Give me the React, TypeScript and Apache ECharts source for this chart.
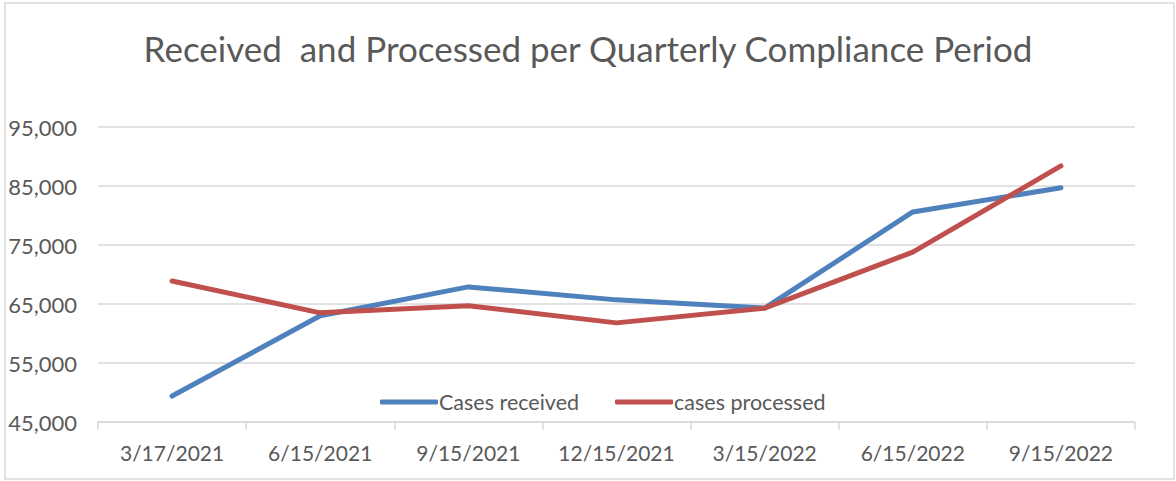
import React, { useEffect, useRef } from "react";
import * as echarts from "echarts";

const categories = ["3/17/2021", "6/15/2021", "9/15/2021", "12/15/2021", "3/15/2022", "6/15/2022", "9/15/2022"];
const casesReceived = [49400, 63000, 67900, 65700, 64300, 80600, 84700];
const casesProcessed = [68900, 63500, 64700, 61800, 64300, 73800, 88400];
const titleText = "Received  and Processed per Quarterly Compliance Period";

export default function App() {
  const ref = useRef<HTMLDivElement>(null);
  useEffect(() => {
    document.body.style.margin = "0";
    const chart = echarts.init(ref.current!, null, { renderer: "svg" });
    const font = "Lato, 'Open Sans', sans-serif";
    chart.setOption({
      animation: false,
      backgroundColor: "#ffffff",
      textStyle: { fontFamily: font },
      graphic: [
        {
          type: "rect",
          shape: { x: 5, y: 3, width: 1169, height: 476 },
          style: { fill: "none", stroke: "#d9d9d9", lineWidth: 1.5 },
          silent: true,
        },
      ],
      title: {
        text: titleText,
        left: "center",
        top: 25,
        textStyle: { fontFamily: font, fontSize: 35, fontWeight: "normal", color: "#595959" },
      },
      legend: {
        bottom: 63,
        left: 375,
        itemWidth: 58,
        itemHeight: 5,
        itemGap: 36,
        icon: "roundRect",
        textStyle: { fontFamily: font, fontSize: 21.5, color: "#595959", padding: [0, 0, 0, -4] },
        data: ["Cases received", "cases processed"],
      },
      grid: { left: 98, right: 41, top: 127, bottom: 59, containLabel: false },
      xAxis: {
        type: "category",
        data: categories,
        boundaryGap: true,
        axisLine: { lineStyle: { color: "#d9d9d9", width: 1.5 } },
        axisTick: { show: true, interval: 0, length: 8, lineStyle: { color: "#d9d9d9", width: 1.5 } },
        axisLabel: { interval: 0, fontFamily: font, fontSize: 21, color: "#595959", margin: 20 },
      },
      yAxis: {
        type: "value",
        min: 45000,
        max: 95000,
        interval: 10000,
        axisLine: { show: false },
        axisTick: { show: false },
        splitLine: { lineStyle: { color: "#d9d9d9", width: 1.5 } },
        axisLabel: {
          fontFamily: font,
          fontSize: 22,
          color: "#595959",
          margin: 21,
          formatter: (v: number) => v.toLocaleString("en-US"),
        },
      },
      series: [
        {
          name: "Cases received",
          type: "line",
          data: casesReceived,
          symbol: "none",
          lineStyle: { color: "#4f81bd", width: 5, cap: "round", join: "round" },
          itemStyle: { color: "#4f81bd" },
        },
        {
          name: "cases processed",
          type: "line",
          data: casesProcessed,
          symbol: "none",
          lineStyle: { color: "#c0504d", width: 5, cap: "round", join: "round" },
          itemStyle: { color: "#c0504d" },
        },
      ],
    });
    return () => chart.dispose();
  }, []);
  return <div ref={ref} style={{ position: "absolute", left: 0, top: 0, width: 1176, height: 481 }} />;
}
